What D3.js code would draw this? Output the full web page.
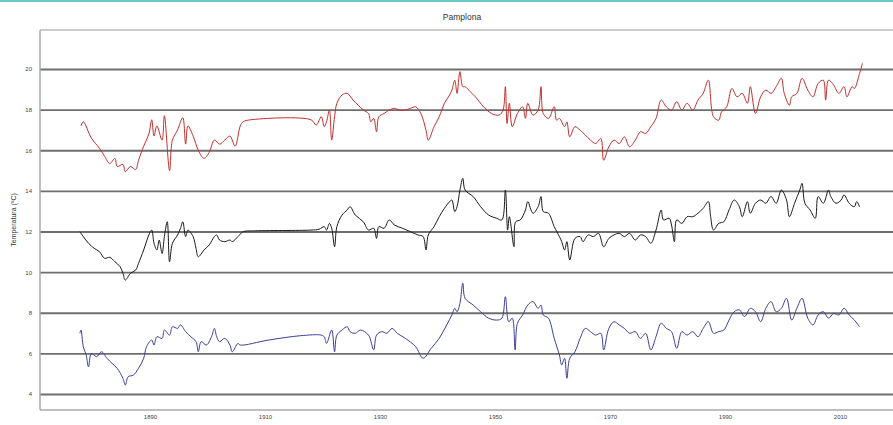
<!DOCTYPE html>
<html><head><meta charset="utf-8">
<script src="https://cdn.jsdelivr.net/npm/d3@7"></script>
<style>html,body{margin:0;padding:0;background:#fff;overflow:hidden}svg{display:block}</style>
</head><body>
<svg id="c" width="893" height="425"></svg>
<script>
// ---- data (year, °C) ----
const maxYears = [1878.0,1878.4,1879.8,1881.2,1882.1,1883.0,1883.9,1884.3,1885.3,1885.7,1886.6,1887.5,1888.0,1888.9,1889.8,1890.3,1890.7,1891.2,1892.1,1892.5,1893.4,1893.9,1894.8,1895.7,1896.2,1896.6,1897.5,1898.4,1899.4,1900.3,1901.2,1902.1,1903.0,1903.9,1904.8,1905.7,1906.2,1907.5,1918.0,1918.9,1919.8,1920.3,1920.7,1921.2,1921.6,1922.1,1922.5,1923.4,1924.3,1925.3,1926.2,1927.1,1928.0,1928.4,1928.9,1929.4,1929.8,1930.7,1931.6,1932.5,1933.4,1934.4,1935.3,1936.2,1937.1,1938.0,1938.4,1939.4,1940.3,1941.2,1942.1,1942.5,1943.0,1943.4,1943.9,1944.4,1944.8,1945.7,1946.6,1948.0,1949.4,1950.7,1951.4,1951.8,1952.1,1952.5,1953.0,1953.9,1954.8,1955.3,1955.7,1956.6,1957.5,1958.0,1958.4,1959.3,1960.3,1960.7,1961.2,1962.1,1962.5,1963.0,1963.9,1964.8,1965.7,1966.6,1967.5,1968.4,1968.9,1969.8,1970.7,1971.6,1972.5,1973.4,1974.4,1975.3,1976.2,1977.1,1978.0,1978.9,1979.8,1980.7,1981.6,1982.5,1983.4,1984.4,1985.3,1986.2,1987.1,1988.0,1988.9,1989.4,1990.3,1991.2,1992.1,1993.0,1993.9,1994.4,1995.3,1996.2,1997.1,1998.0,1998.9,1999.8,2000.3,2001.2,2001.6,2002.5,2003.4,2004.4,2005.3,2006.2,2007.1,2007.5,2008.0,2008.9,2009.8,2010.7,2011.2,2012.1,2012.5,2013.4,2013.9];
const maxTemp = [17.2,17.4,16.6,16.1,15.7,15.35,15.6,15.2,15.3,14.95,15.2,15.05,15.5,16.2,16.8,17.5,16.7,17.2,16.5,17.7,15.0,16.5,17.0,17.6,16.3,17.2,16.7,16.0,15.6,15.9,16.5,16.3,16.5,16.7,16.2,17.2,17.4,17.5,17.5,17.24,17.65,17.16,17.4,17.98,16.5,17.65,18.31,18.72,18.8,18.47,18.22,17.98,17.81,17.4,17.57,16.91,17.65,17.81,17.98,18.06,17.98,17.98,18.06,18.14,17.81,16.99,16.5,17.16,17.65,18.31,18.72,18.96,19.45,18.8,19.87,19.13,19.13,18.88,18.63,18.14,17.81,17.73,17.98,19.13,17.32,18.31,17.16,17.81,18.14,17.57,18.31,17.73,17.98,19.13,17.81,17.57,18.14,17.48,17.57,17.16,17.4,16.66,17.16,16.99,16.75,16.5,16.33,16.58,15.51,16.17,16.5,16.33,16.66,16.17,16.5,16.91,16.83,17.16,17.57,18.47,18.14,17.98,18.39,17.98,18.31,17.98,18.47,18.8,19.45,17.65,17.48,17.89,18.14,19.04,18.63,18.8,18.31,19.13,17.81,18.63,18.96,18.8,19.13,19.54,18.8,18.22,18.63,18.8,19.54,18.96,18.63,19.29,19.45,18.47,19.45,19.21,18.8,19.13,18.63,19.13,19.04,19.78,20.28];

const meanYears = [1877.8,1878.4,1879.3,1880.3,1881.2,1882.1,1883.0,1883.9,1884.8,1885.3,1885.7,1886.6,1887.5,1888.0,1888.9,1889.8,1890.3,1890.7,1891.2,1891.6,1892.1,1892.5,1893.0,1893.4,1893.9,1894.8,1895.3,1895.7,1896.2,1896.6,1897.5,1898.0,1898.4,1899.4,1900.3,1901.2,1901.6,1902.1,1903.0,1903.9,1904.3,1905.3,1906.2,1908.0,1918.0,1919.4,1920.3,1920.7,1921.2,1921.6,1922.1,1922.5,1923.4,1924.3,1924.8,1925.7,1927.1,1928.0,1928.9,1929.4,1929.8,1930.7,1931.6,1932.5,1933.9,1935.3,1936.6,1937.5,1938.0,1938.4,1939.4,1940.3,1941.2,1942.1,1942.5,1943.0,1943.4,1943.9,1944.4,1944.8,1946.2,1947.5,1948.9,1950.3,1951.2,1951.8,1952.2,1952.5,1953.3,1953.6,1954.4,1955.3,1955.7,1956.6,1957.5,1958.0,1958.4,1959.3,1960.3,1961.2,1961.6,1962.1,1962.5,1963.0,1963.9,1964.8,1965.3,1966.2,1967.1,1968.0,1968.9,1969.8,1970.7,1971.6,1972.5,1973.4,1974.4,1975.3,1976.2,1977.1,1978.0,1978.9,1979.3,1980.3,1980.7,1981.2,1981.6,1982.5,1983.4,1984.4,1985.3,1986.2,1987.1,1987.5,1988.0,1988.9,1989.8,1990.7,1991.6,1992.5,1993.0,1993.9,1994.4,1995.3,1996.2,1997.1,1998.0,1998.9,1999.8,2000.7,2001.2,2002.1,2003.0,2003.4,2003.9,2004.8,2005.7,2006.2,2007.1,2008.0,2008.4,2009.3,2010.2,2010.7,2011.6,2012.5,2012.9,2013.4];
const meanTemp = [11.99,11.75,11.42,11.17,11.01,10.68,10.73,10.51,10.27,9.94,9.61,9.94,10.1,10.43,11.09,11.83,12.07,11.42,11.09,11.58,10.92,11.75,12.48,10.51,11.42,11.83,12.16,12.48,11.75,12.07,11.75,11.17,10.76,11.09,11.34,11.75,11.83,11.58,11.5,11.58,11.5,11.75,11.99,12.03,12.07,12.11,12.24,12.07,12.4,12.16,11.25,12.24,12.81,13.06,13.22,12.81,12.48,12.07,12.16,11.66,12.24,12.16,12.57,12.32,12.16,11.99,11.83,11.75,11.09,11.83,12.24,12.73,13.14,13.47,13.55,12.98,13.22,14.04,14.62,14.04,13.72,13.22,12.81,12.65,12.57,14.04,12.07,12.73,11.25,12.48,12.57,13.06,13.47,12.9,13.22,13.72,12.98,12.9,12.24,11.75,11.5,11.09,11.5,10.6,11.66,11.75,11.5,11.83,11.75,11.91,11.25,11.66,11.83,11.91,11.75,11.91,11.58,11.83,11.75,11.42,12.07,13.06,12.57,12.65,12.32,11.5,12.57,12.4,12.73,12.73,12.9,13.14,13.47,12.73,12.07,12.4,12.48,13.06,13.55,13.22,12.73,13.47,12.9,13.39,13.55,13.39,13.72,13.39,14.04,13.55,12.73,13.39,14.04,14.37,13.39,13.06,12.65,13.72,13.39,14.04,13.72,13.39,13.55,13.8,13.39,13.22,13.47,13.22];

const minYears = [1877.8,1878.0,1878.4,1878.9,1879.3,1879.8,1880.7,1881.6,1882.5,1883.4,1884.3,1885.3,1885.7,1886.2,1887.1,1888.0,1888.9,1889.4,1890.3,1890.7,1891.2,1892.1,1892.5,1893.4,1893.9,1894.8,1895.3,1896.2,1897.1,1898.0,1898.4,1898.9,1899.8,1900.7,1901.2,1901.6,1902.1,1903.0,1903.9,1904.3,1905.3,1905.7,1910.7,1916.2,1919.8,1920.3,1920.7,1921.6,1922.1,1922.5,1923.4,1924.3,1924.8,1925.7,1926.6,1928.0,1928.9,1929.4,1930.3,1931.2,1932.1,1933.0,1934.4,1936.2,1937.5,1938.9,1940.3,1941.6,1942.5,1943.0,1943.4,1943.9,1944.4,1944.8,1946.2,1947.5,1948.9,1950.3,1951.2,1951.8,1952.4,1953.0,1953.5,1953.9,1954.8,1955.7,1956.6,1957.5,1958.0,1958.4,1959.3,1960.3,1961.2,1961.6,1962.1,1962.5,1963.0,1963.9,1964.8,1965.7,1966.6,1967.5,1968.4,1968.9,1969.8,1970.7,1971.6,1972.5,1973.4,1974.4,1975.3,1976.2,1977.1,1978.0,1978.9,1979.8,1980.7,1981.6,1982.5,1983.4,1984.4,1985.3,1986.2,1987.1,1988.0,1988.9,1989.8,1990.7,1991.6,1992.5,1993.4,1994.4,1995.3,1996.2,1997.1,1998.0,1998.9,1999.8,2000.7,2001.6,2002.5,2003.4,2004.4,2005.3,2006.2,2007.1,2008.0,2008.9,2009.8,2010.7,2011.6,2012.5,2013.4];
const minTemp = [6.99,7.15,6.33,5.92,5.34,6.0,5.84,6.08,5.76,5.51,5.26,4.77,4.44,4.85,4.93,5.26,5.76,6.33,6.66,6.41,6.82,6.74,7.15,6.9,7.31,7.23,7.4,7.07,6.82,6.58,6.08,6.58,6.41,6.82,7.23,6.82,6.58,6.74,6.41,6.08,6.49,6.41,6.66,6.87,6.9,6.82,6.49,7.15,6.08,6.9,7.15,7.31,7.07,6.99,7.15,6.9,6.17,6.9,7.07,6.99,7.23,6.99,6.74,6.33,5.76,6.25,6.74,7.4,7.89,8.22,8.05,8.46,9.45,8.71,8.38,8.05,7.73,7.64,7.73,8.79,7.56,7.73,6.17,7.48,7.89,8.38,8.55,8.22,8.38,7.89,7.73,6.74,5.92,5.43,5.76,4.77,5.76,6.08,6.74,7.23,7.07,6.9,6.99,6.17,7.23,7.56,7.4,7.23,6.99,7.07,6.74,6.99,6.17,6.82,7.48,7.23,7.07,6.25,7.07,6.9,7.07,6.82,7.23,7.56,6.99,7.07,7.15,7.64,8.05,8.14,7.81,8.22,8.05,7.56,8.22,8.55,8.05,8.22,8.71,7.64,8.22,8.71,7.73,7.4,7.89,8.05,7.73,7.97,7.89,8.22,7.89,7.64,7.31];

const yTicks = [4,6,8,10,12,14,16,18,20];
const xTicks = [1890,1910,1930,1950,1970,1990,2010];
const seriesNames = ["Máxima","Media","Mínima"];
const seriesColors = ["#c0302e","#1a1a1a","#3b3f98"];
const titleText = "Pamplona";
const yTitle = "Temperatura (ºC)";

// ---- drawing ----
(function(){
const svg = d3.select("#c");
const W = 893, H = 425;
const pL = 40, pT = 30, pB = 410, pR = 893;

const x = d3.scaleLinear().domain([1890, 2010]).range([150, 840]);
const y = d3.scaleLinear().domain([4, 20]).range([394, 69]);

svg.append("rect").attr("x",0).attr("y",0).attr("width",W).attr("height",2).attr("fill","#6cc8c0");

svg.append("text").attr("x",462).attr("y",20).attr("text-anchor","middle")
  .attr("font-family","Liberation Sans, Arial, sans-serif").attr("font-size",8.5).attr("fill","#333")
  .text(titleText);

svg.append("line").attr("x1",pL).attr("x2",pR).attr("y1",pT).attr("y2",pT)
  .attr("stroke","#bbb").attr("stroke-width",1.5);

const yAxis = d3.axisLeft(y).tickValues(yTicks).tickSize(-(pR-pL)).tickPadding(8).tickFormat(d3.format("d"));
const gy = svg.append("g").attr("transform",`translate(${pL},0)`).call(yAxis);
gy.select(".domain").remove();
gy.selectAll(".tick line").attr("stroke","#6e6e6e").attr("stroke-width",1.8);
gy.selectAll(".tick text").attr("font-family","Liberation Sans, Arial, sans-serif").attr("font-size",6).attr("fill","#444");

svg.append("line").attr("x1",pL).attr("x2",pL).attr("y1",pT).attr("y2",pB)
  .attr("stroke","#aaa").attr("stroke-width",1.5);

const xAxis = d3.axisBottom(x).tickValues(xTicks).tickSize(0).tickPadding(5).tickFormat(d3.format("d"));
const gx = svg.append("g").attr("transform",`translate(0,${pB})`).call(xAxis);
gx.select(".domain").remove();
gx.selectAll(".tick text").attr("font-family","Liberation Sans, Arial, sans-serif").attr("font-size",6).attr("fill","#444");
svg.append("line").attr("x1",pL).attr("x2",pR).attr("y1",pB).attr("y2",pB)
  .attr("stroke","#aaa").attr("stroke-width",1.5);

svg.append("text").attr("transform",`translate(16,${(pT+pB)/2}) rotate(-90)`).attr("text-anchor","middle")
  .attr("font-family","Liberation Sans, Arial, sans-serif").attr("font-size",7).attr("fill","#333")
  .text(yTitle);

const sets = [[maxYears,maxTemp],[meanYears,meanTemp],[minYears,minTemp]];
const line = d3.line().x(d=>x(d[0])).y(d=>y(d[1])).curve(d3.curveCatmullRom.alpha(0.5));
sets.forEach((s,i)=>{
  const pts = s[0].map((yr,k)=>[yr, s[1][k]]);
  svg.append("path").datum(pts).attr("d",line).attr("fill","none")
    .attr("stroke",seriesColors[i]).attr("stroke-width",1).attr("stroke-linejoin","round")
    .attr("data-name",seriesNames[i]);
});
})();
</script>
</body></html>
